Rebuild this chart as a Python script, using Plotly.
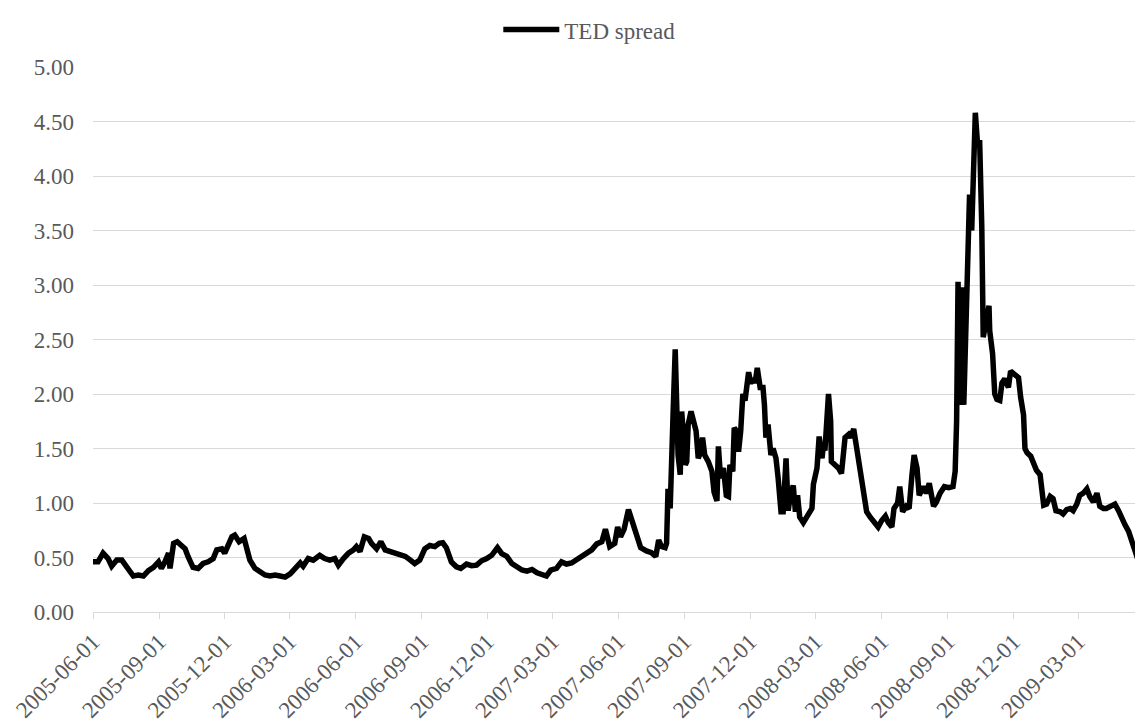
import pandas as pd
import plotly.graph_objects as go

start_date = "2005-06-01"

# day offsets from 2005-06-01 and TED spread values (percentage points)
days = [
    0, 7, 14, 21, 26, 33, 40, 44, 51, 56, 63, 70, 77, 84, 91, 95, 100, 105, 107, 112,
    117, 123, 128, 132, 139, 146, 153, 160, 167, 172, 179, 183, 188, 193, 197, 203, 210, 213, 218, 225,
    232, 239, 246, 253, 260, 267, 274, 281, 288, 292, 299, 306, 315, 322, 329, 336, 341, 348, 355, 362,
    366, 371, 377, 383, 387, 394, 400, 406, 413, 420, 427, 434, 441, 447, 454, 461, 468, 475, 481,
    486, 491, 498, 505, 511, 519, 526, 533, 540, 547, 554, 562, 568, 575, 582, 589, 596, 603, 610, 617,
    623, 630, 636, 644, 651, 658, 665, 672, 680, 686, 693, 700, 707, 712, 718, 725, 729, 733, 738, 744,
    751, 758, 761, 769, 776, 782, 786, 790, 795, 797,
    799, 802, 804, 806, 809, 811, 813, 816, 818, 820, 823, 825, 827, 831, 834, 838, 841, 844, 847, 850,
    855, 860, 863, 867, 869, 872, 876, 880, 883, 885, 889, 891, 894, 897, 900, 903, 906, 909, 911, 914,
    918, 920, 923, 927, 931, 933, 935, 938, 942, 945, 949, 952, 956, 959, 963, 966, 969, 973, 976, 979,
    982, 987, 992,
    994, 999, 1001, 1006, 1009, 1013, 1015, 1017, 1022, 1025, 1026, 1031, 1036, 1040, 1045, 1050, 1053, 1057,
    1061, 1066, 1070, 1075, 1080, 1087, 1091, 1096, 1101, 1105, 1110, 1113, 1118, 1121, 1125, 1130, 1134,
    1138, 1141, 1145, 1148, 1154, 1158, 1162, 1168, 1172, 1177, 1183, 1189, 1195, 1198, 1200,
    1202, 1205, 1208, 1210, 1214, 1218, 1221, 1223, 1226, 1229, 1232, 1235, 1237, 1242, 1245, 1246, 1250,
    1253, 1256, 1260, 1263, 1267, 1272, 1275, 1280, 1286, 1289, 1293, 1295, 1298, 1303, 1307, 1311, 1316,
    1318, 1321, 1325, 1330, 1334, 1338, 1344, 1348, 1353, 1358, 1362, 1367, 1371, 1376, 1381, 1385, 1390,
    1395, 1399, 1404, 1408, 1414, 1420, 1425, 1429, 1434, 1439, 1443, 1448, 1451, 1455, 1458,
]

ted_spread = [
    0.46, 0.46, 0.54, 0.49, 0.42, 0.476, 0.476, 0.44, 0.37, 0.33, 0.34, 0.33, 0.38, 0.41, 0.46, 0.40, 0.46, 0.54, 0.40, 0.63,
    0.645, 0.61, 0.58, 0.51, 0.41, 0.40, 0.445, 0.46, 0.49, 0.57, 0.58, 0.54, 0.61, 0.69, 0.705, 0.645, 0.675, 0.58, 0.476, 0.40,
    0.37, 0.34, 0.33, 0.34, 0.33, 0.32, 0.35, 0.41, 0.45, 0.42, 0.49, 0.476, 0.52, 0.49, 0.476, 0.49, 0.43, 0.49, 0.54, 0.57,
    0.60, 0.555, 0.69, 0.675, 0.63, 0.58, 0.645, 0.57, 0.555, 0.54, 0.52, 0.51, 0.476, 0.445, 0.476, 0.58, 0.61, 0.60, 0.63,
    0.635, 0.59, 0.46, 0.415, 0.40, 0.44, 0.425, 0.43, 0.47, 0.49, 0.52, 0.59, 0.535, 0.51, 0.445, 0.415, 0.385, 0.375, 0.39, 0.36,
    0.34, 0.33, 0.385, 0.40, 0.46, 0.44, 0.45, 0.48, 0.505, 0.53, 0.57, 0.625, 0.645, 0.76, 0.60, 0.63, 0.78, 0.69, 0.76, 0.94,
    0.80, 0.69, 0.59, 0.56, 0.545, 0.51, 0.66, 0.60, 0.59, 0.63,
    1.13, 0.95, 1.66, 1.81, 2.41, 1.90, 1.44, 1.26, 1.84, 1.66, 1.35, 1.38, 1.72, 1.84, 1.75, 1.66, 1.41, 1.46, 1.60, 1.44,
    1.38, 1.29, 1.10, 1.02, 1.52, 1.23, 1.32, 1.07, 1.06, 1.35, 1.29, 1.69, 1.66, 1.47, 1.66, 2.00, 1.94, 2.06, 2.20, 2.10,
    2.14, 2.10, 2.24, 2.06, 2.06, 1.90, 1.60, 1.72, 1.44, 1.50, 1.41, 1.23, 0.92, 0.92, 1.41, 0.93, 1.07, 1.16, 0.92, 1.07,
    0.87, 0.82, 0.87,
    0.89, 0.95, 1.17, 1.32, 1.61, 1.41, 1.54, 1.48, 2.00, 1.75, 1.38, 1.35, 1.32, 1.27, 1.60, 1.63, 1.60, 1.68,
    1.51, 1.32, 1.10, 0.92, 0.87, 0.80, 0.78, 0.84, 0.88, 0.82, 0.78, 0.95, 1.00, 1.15, 0.92, 0.97, 0.95,
    1.26, 1.44, 1.32, 1.07, 1.15, 1.09, 1.18, 0.97, 1.01, 1.09, 1.15, 1.14, 1.15, 1.29, 1.75,
    3.03, 1.90, 2.98, 1.90, 2.92, 3.83, 3.50, 3.90, 4.58, 4.30, 4.33, 3.53, 2.52, 2.70, 2.81, 2.58, 2.37,
    2.00, 1.95, 1.94, 2.10, 2.14, 2.06, 2.21, 2.18, 2.15, 1.97, 1.81, 1.50, 1.46, 1.43, 1.35, 1.30, 1.26,
    1.13, 0.98, 0.99, 1.06, 1.04, 0.93, 0.92, 0.90, 0.94, 0.95, 0.93, 0.99, 1.07, 1.09, 1.13, 1.06, 1.01,
    1.09, 0.97, 0.95, 0.95, 0.97, 0.99, 0.93, 0.86, 0.80, 0.74, 0.67, 0.55, 0.50, 0.50, 0.52,
]

tick_labels = [
    "2005-06-01", "2005-09-01", "2005-12-01", "2006-03-01", "2006-06-01", "2006-09-01",
    "2006-12-01", "2007-03-01", "2007-06-01", "2007-09-01", "2007-12-01", "2008-03-01",
    "2008-06-01", "2008-09-01", "2008-12-01", "2009-03-01",
]
x_end = "2009-05-30"
y_ticks = [0, 0.5, 1.0, 1.5, 2.0, 2.5, 3.0, 3.5, 4.0, 4.5, 5.0]

dates = pd.Timestamp(start_date) + pd.to_timedelta(days, unit="D")

FONT = "Liberation Serif, Times New Roman, serif"
GREY = "#595959"
GRID = "#d9d9d9"

fig = go.Figure()
fig.add_trace(go.Scatter(
    x=dates, y=ted_spread, mode="lines", name="TED spread",
    line=dict(color="#000000", width=5.5),
))

fig.update_layout(
    width=1135, height=715,
    margin=dict(l=85, r=0, t=59, b=103),
    paper_bgcolor="white", plot_bgcolor="white",
    font=dict(family=FONT, size=23, color=GREY),
    showlegend=True,
    legend=dict(orientation="h", x=0.386, xanchor="left", y=1.108, yanchor="top",
                itemwidth=56,
                font=dict(family=FONT, size=23, color=GREY), bgcolor="rgba(0,0,0,0)"),
)
fig.update_xaxes(
    type="date", range=[start_date, x_end],
    tickvals=tick_labels, ticktext=tick_labels, tickangle=-45,
    showgrid=False, zeroline=False,
    showline=True, linecolor=GRID, linewidth=1.3,
    ticks="outside", ticklen=6, tickcolor=GRID, tickwidth=1.3,
    tickfont=dict(family=FONT, size=23, color=GREY),
)
fig.update_yaxes(
    range=[0, 5], tickvals=y_ticks, tickformat=".2f",
    showgrid=True, gridcolor=GRID, gridwidth=1.3,
    zeroline=False, showline=False, ticks="",
    ticklabelstandoff=18,
    tickfont=dict(family=FONT, size=23, color=GREY),
)

fig.write_html("out.html")
